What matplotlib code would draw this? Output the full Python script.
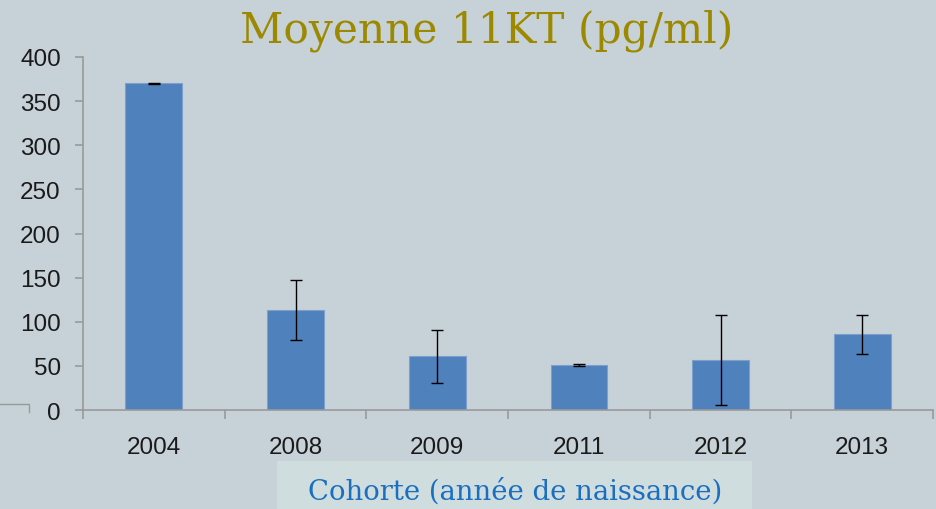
import numpy as np
import matplotlib
matplotlib.use("Agg")
import matplotlib.pyplot as plt
from matplotlib.patches import Rectangle
from matplotlib.lines import Line2D

# data
cohortes = ["2004", "2008", "2009", "2011", "2012", "2013"]
moyennes = [370, 113, 61, 51, 57, 86]
erreurs = [0.5, 34, 30, 1, 51, 22]

BG = "#c7d2d8"
BAR = "#4f81bd"
GRID_GREY = "#999999"

fig = plt.figure(figsize=(9.36, 5.10), dpi=100, facecolor=BG)
ax = fig.add_axes([83 / 936, 1 - 411 / 510, 850 / 936, 353 / 510])
ax.set_facecolor(BG)

x = np.arange(len(cohortes))
ax.bar(x, moyennes, width=0.4, color=BAR, edgecolor="#7d9fcb", linewidth=0.8, zorder=2)
ax.errorbar(x, moyennes, yerr=erreurs, fmt="none", ecolor="black",
            elinewidth=1.0, capsize=4.5, capthick=1.0, zorder=3)

ax.set_xlim(-0.5, len(cohortes) - 0.5)
ax.set_ylim(0, 400)
ax.set_yticks(np.arange(0, 401, 50))
ax.set_xticks(x)
ax.set_xticklabels(cohortes)
ax.set_xticks(np.arange(-0.5, len(cohortes), 1), minor=True)

for s in ["top", "right"]:
    ax.spines[s].set_visible(False)
for s in ["left", "bottom"]:
    ax.spines[s].set_color(GRID_GREY)
    ax.spines[s].set_linewidth(1.2)

ax.tick_params(axis="y", length=6, width=1.2, color=GRID_GREY, pad=10)
ax.tick_params(axis="x", which="major", length=0, pad=19)
ax.tick_params(axis="x", which="minor", length=6.5, width=1.2, color=GRID_GREY)
for lab in ax.get_xticklabels() + ax.get_yticklabels():
    lab.set_fontfamily("Liberation Sans")
    lab.set_fontsize(17.5)
    lab.set_color("#1a1a1a")

# title
fig.text(487 / 936, 1 - 31 / 510, "Moyenne 11KT (pg/ml)", ha="center", va="center",
         family="DejaVu Serif", fontsize=30.5, color="#9c8900")

# x label in a lighter box
fig.patches.append(Rectangle((277 / 936, 0), 475 / 936, 48 / 510, transform=fig.transFigure,
                             facecolor="#d0dddf", edgecolor="none", zorder=0))
fig.text(515 / 936, 1 - 492 / 510, "Cohorte (année de naissance)", ha="center", va="center",
         family="DejaVu Serif", fontsize=19.8, color="#1a6fc0")

# small stray line on the left edge
fig.lines.append(Line2D([0, 29 / 936, 29 / 936], [1 - 405 / 510, 1 - 405 / 510, 1 - 413 / 510],
                        transform=fig.transFigure, color=GRID_GREY, linewidth=1.0))

fig.savefig("out.png", dpi=100, facecolor=BG)
